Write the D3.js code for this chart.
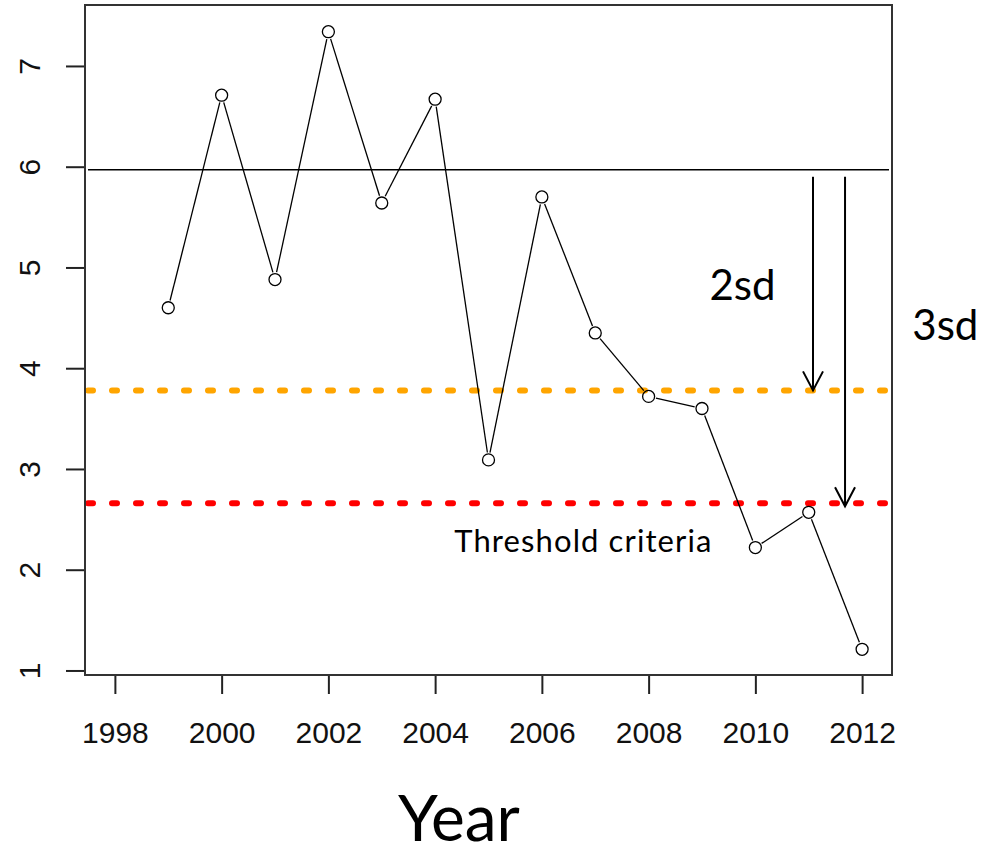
<!DOCTYPE html>
<meta charset="utf-8">
<style>
body { margin: 0; background: #fff; }
.axis text { font-family: "Liberation Sans", Arial, sans-serif; font-size: 30px; fill: #111; }
.axis line { stroke: #222; stroke-width: 2px; }
.note { font-family: Lato, "Open Sans", sans-serif; fill: #000; }
</style>
<script src="https://d3js.org/d3.v7.min.js"></script>
<body>
<script>

var width = 983,
    height = 856;

// series
var years  = [1999, 2000, 2001, 2002, 2003, 2004, 2005, 2006, 2007, 2008, 2009, 2010, 2011, 2012];
var values = [4.60, 6.71, 4.88, 7.34, 5.64, 6.67, 3.09, 5.70, 4.35, 3.72, 3.60, 2.22, 2.57, 1.21];

// reference lines: mean, 2sd, 3sd
var refValues = [5.97, 3.78, 2.66];
var refColors = ["#000", "#FFA500", "#FF0000"];

var xTicks = [1998, 2000, 2002, 2004, 2006, 2008, 2010, 2012];
var yTicks = [1, 2, 3, 4, 5, 6, 7];

// arrows from mean down to thresholds
var arrowX    = [2011.08, 2011.68];
var arrowFrom = [5.90, 5.90];
var arrowTo   = [3.78, 2.63];

var svg = d3.select("body").append("svg")
    .attr("width", width)
    .attr("height", height);

var x = d3.scaleLinear()
    .domain([1997.44, 2012.56])
    .range([85, 892]);

var y = d3.scaleLinear()
    .domain([0.955, 7.605])
    .range([675, 5]);

// axes
var gy = svg.append("g")
    .attr("class", "axis")
    .attr("transform", "translate(85,0)")
    .call(d3.axisLeft(y).tickValues(yTicks).tickSize(19).tickFormat(d3.format("d")));
gy.select(".domain").remove();
gy.selectAll("text")
    .attr("transform", "rotate(-90)")
    .attr("text-anchor", "middle")
    .attr("x", 0)
    .attr("y", -45)
    .attr("dy", 0);

var gx = svg.append("g")
    .attr("class", "axis")
    .attr("transform", "translate(0,675)")
    .call(d3.axisBottom(x).tickValues(xTicks).tickSize(19).tickFormat(d3.format("d")));
gx.select(".domain").remove();
gx.selectAll("text")
    .attr("y", 68)
    .attr("dy", 0);

// reference lines
svg.selectAll(".ref")
  .data(refValues)
  .enter().append("line")
    .attr("class", "ref")
    .attr("x1", x.range()[0] + 3)
    .attr("x2", x.range()[1] - 3)
    .attr("y1", function(d) { return y(d); })
    .attr("y2", function(d) { return y(d); })
    .attr("stroke", function(d, i) { return refColors[i]; })
    .attr("stroke-width", function(d, i) { return i ? 6 : 1.5; })
    .attr("stroke-linecap", function(d, i) { return i ? "round" : "butt"; })
    .attr("stroke-dasharray", function(d, i) { return i ? "5 19" : null; });

// line with gaps around points (type = "b")
var r = 6;
var pts = years.map(function(d, i) { return [x(d), y(values[i])]; });
var segs = d3.pairs(pts).map(function(p) {
  var dx = p[1][0] - p[0][0], dy = p[1][1] - p[0][1];
  var len = Math.sqrt(dx * dx + dy * dy), g = (r + 1.5) / len;
  return [p[0][0] + dx * g, p[0][1] + dy * g, p[1][0] - dx * g, p[1][1] - dy * g];
});

svg.selectAll(".seg")
  .data(segs)
  .enter().append("line")
    .attr("class", "seg")
    .attr("x1", function(d) { return d[0]; })
    .attr("y1", function(d) { return d[1]; })
    .attr("x2", function(d) { return d[2]; })
    .attr("y2", function(d) { return d[3]; })
    .attr("stroke", "#000")
    .attr("stroke-width", 1.3);

svg.selectAll(".pt")
  .data(values)
  .enter().append("circle")
    .attr("class", "pt")
    .attr("cx", function(d, i) { return x(years[i]); })
    .attr("cy", function(d) { return y(d); })
    .attr("r", r)
    .attr("fill", "none")
    .attr("stroke", "#000")
    .attr("stroke-width", 1.3);

// plot box
svg.append("rect")
    .attr("x", x.range()[0])
    .attr("y", y.range()[1])
    .attr("width", x.range()[1] - x.range()[0])
    .attr("height", y.range()[0] - y.range()[1])
    .attr("fill", "none")
    .attr("stroke", "#333")
    .attr("stroke-width", 2);

// arrows
var arrows = svg.selectAll(".arrow")
  .data(arrowX)
  .enter().append("g")
    .attr("class", "arrow");

arrows.append("line")
    .attr("x1", function(d) { return x(d); })
    .attr("x2", function(d) { return x(d); })
    .attr("y1", function(d, i) { return y(arrowFrom[i]); })
    .attr("y2", function(d, i) { return y(arrowTo[i]); })
    .attr("stroke", "#000")
    .attr("stroke-width", 2);

arrows.append("path")
    .attr("d", function(d, i) {
      var px = x(d), py = y(arrowTo[i]);
      return "M" + (px - 10) + "," + (py - 19) + "L" + px + "," + py + "L" + (px + 10) + "," + (py - 19);
    })
    .attr("fill", "none")
    .attr("stroke", "#000")
    .attr("stroke-width", 2);

// annotations
svg.append("text")
    .attr("class", "note")
    .attr("x", x(2009.14))
    .attr("y", y(4.68))
    .attr("font-size", 42)
    .text("2sd");

svg.append("text")
    .attr("class", "note")
    .attr("x", x(2012.94))
    .attr("y", y(4.28))
    .attr("font-size", 42)
    .text("3sd");

svg.append("text")
    .attr("class", "note")
    .attr("x", x(2004.36))
    .attr("y", y(2.18))
    .attr("font-size", 31)
    .attr("letter-spacing", 1.1)
    .text("Threshold criteria");

svg.append("text")
    .attr("class", "note")
    .attr("x", 398)
    .attr("y", 841)
    .attr("font-size", 64)
    .text("Year");

</script>
